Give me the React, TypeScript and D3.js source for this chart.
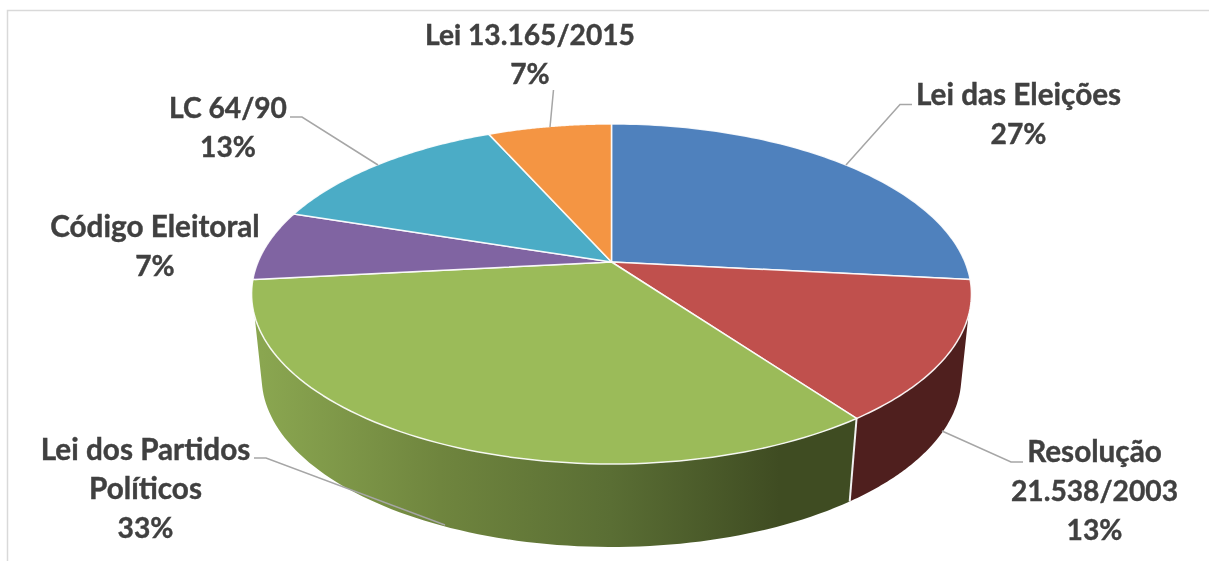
import React from "react";
import * as d3 from "d3";

const categories = ["Lei das Eleições", "Resolução 21.538/2003", "Lei dos Partidos Políticos", "Código Eleitoral", "LC 64/90", "Lei 13.165/2015"];
const counts = [4, 2, 5, 1, 2, 1];
const topColors = ["#4F81BD", "#C0504D", "#9BBB59", "#8064A2", "#4BACC6", "#F49543"];
const labelLines = [
  ["Lei das Eleições", "27%"],
  ["Resolução", "21.538/2003", "13%"],
  ["Lei dos Partidos", "Políticos", "33%"],
  ["Código Eleitoral", "7%"],
  ["LC 64/90", "13%"],
  ["Lei 13.165/2015", "7%"],
];
const labelX = [1018.5, 1094.5, 145.5, 155, 228, 530];
const labelY = [105, 462, 460, 237, 118, 45];
const leaders = [
  [[846, 165], [900, 104.5], [912, 104.5]],
  [[942, 431], [1011, 462], [1023, 462]],
  [[254, 458], [266, 458], [445, 525]],
  [],
  [[290, 117], [302, 117], [378, 165]],
  [[550, 127], [553.5, 90]],
];
const greenStops = [
  [262, "#8AA650"],
  [440, "#6F853E"],
  [611, "#5A6E34"],
  [780, "#3F4C22"],
  [860, "#3F4C22"],
];

const W = 1209, H = 561;
const cx = 611.5, apexY = 262, depth = 83;
const gX = 353.5, gY = 164, k = 0.188, bottomScale = 0.972;
const rightEdge = (108 * Math.PI) / 180, rightBottom = (104 * Math.PI) / 180;
const TAU = 2 * Math.PI;

const project = (a: number, bottom = false): [number, number] => {
  const X = Math.sin(a), Y = -Math.cos(a);
  const d = 1 - k * Y;
  const s = bottom ? bottomScale : 1;
  return [cx + (s * gX * X) / d, apexY + (bottom ? depth : 0) + (gY * Y) / d];
};
const line = d3.line();
const sample = (a0: number, a1: number, bottom = false) =>
  d3.range(0, 81).map((i) => project(a0 + ((a1 - a0) * i) / 80, bottom));

const arcs = d3.pie<number>().sort(null)(counts);

export default function App() {
  const redEnd = arcs[1].endAngle;
  const redWall = [...sample(rightEdge, redEnd), ...sample(redEnd, rightBottom, true)];
  const greenWall = [...sample(redEnd, TAU - rightEdge), ...sample(TAU - rightBottom, redEnd, true)];
  const font = { fontFamily: "Lato, Carlito, sans-serif", fontWeight: 700 };
  return (
    <svg width={W} height={H} style={{ position: "absolute", left: 0, top: 0, background: "#fff" }}>
      <defs>
        <linearGradient id="greenWall" gradientUnits="userSpaceOnUse" x1={250} x2={860} y1={0} y2={0}>
          {greenStops.map(([x, c]) => (
            <stop key={x as number} offset={((x as number) - 250) / 610} stopColor={c as string} />
          ))}
        </linearGradient>
        <filter id="soft" x="-5%" y="-20%" width="110%" height="140%">
          <feGaussianBlur stdDeviation="0.4" />
        </filter>
      </defs>
      <path d="M7.5 561V10.5H1209" fill="none" stroke="#D9D9D9" strokeWidth={1.5} />
      <path d={line(redWall)! + "Z"} fill="#4F1F1E" />
      <path d={line(greenWall)! + "Z"} fill="url(#greenWall)" />
      <path d={line([project(redEnd), project(redEnd, true)])!} stroke="#F2F2F2" strokeWidth={2} />
      {arcs.map((d, i) => (
        <path
          key={categories[i]}
          d={line([[cx, apexY], ...sample(d.startAngle, d.endAngle)])! + "Z"}
          fill={topColors[i]}
          stroke="#fff"
          strokeOpacity={0.9}
          strokeWidth={1.5}
          strokeLinejoin="round"
        />
      ))}
      {leaders.map((pts, i) =>
        pts.length ? (
          <path key={i} d={line(pts as [number, number][])!} fill="none" stroke="#A6A6A6" strokeWidth={1.5} />
        ) : null
      )}
      <g filter="url(#soft)">
        {labelLines.map((lines, i) => (
          <text key={categories[i]} textAnchor="middle" fill="#404040" stroke="#404040" strokeWidth={0.4} style={font}>
            {lines.map((t, j) => (
              <tspan
                key={j}
                x={labelX[i]}
                y={labelY[i] + j * 39}
                fontSize={/\d/.test(t) ? 28.2 : 29.7}
              >
                {t}
              </tspan>
            ))}
          </text>
        ))}
      </g>
    </svg>
  );
}
